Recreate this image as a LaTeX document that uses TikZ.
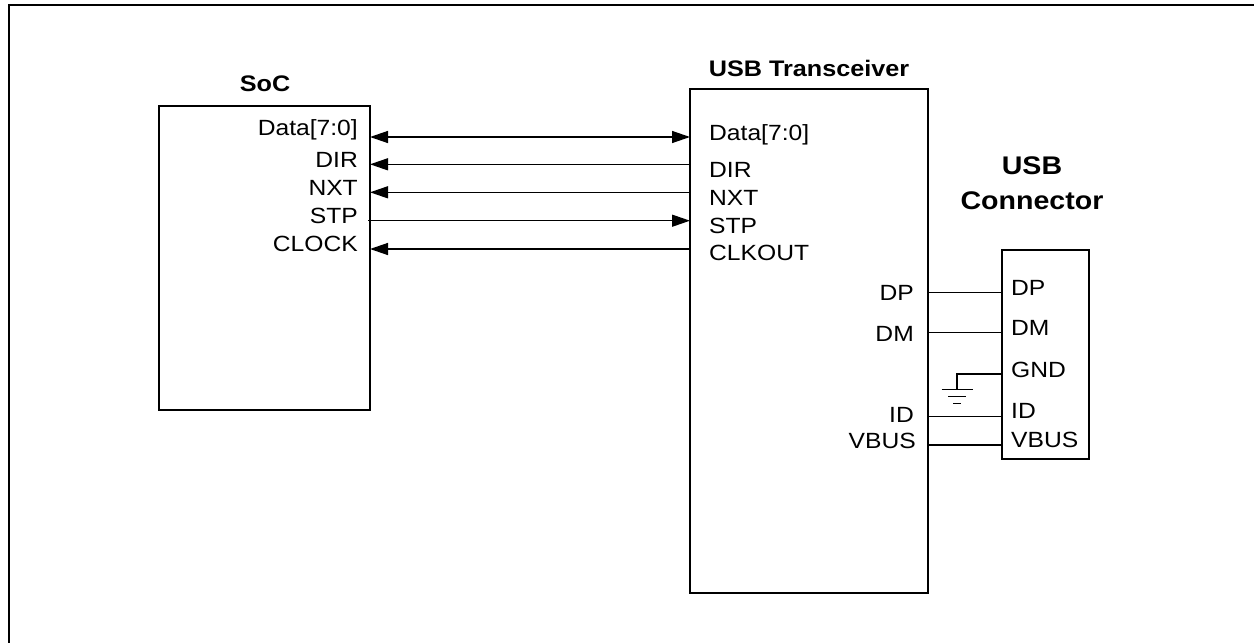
\documentclass[tikz,border=0pt]{standalone}
\usepackage{fontspec}
\setmainfont[FakeStretch=1.12]{Liberation Sans}
\usetikzlibrary{positioning, arrows.meta}

\begin{document}
\begin{tikzpicture}[
    x=1pt, y=-1pt,
    chip/.style={rectangle, draw=black, line width=1.6pt, inner sep=0pt},
    title/.style={font=\fontsize{22.5}{26}\selectfont\bfseries, inner sep=0pt},
    pin/.style={font=\fontsize{22}{26}\selectfont, inner sep=0pt},
    sig/.style={line width=1.4pt},
    arr/.style={sig, -{Triangle[length=18pt, width=12pt]}},
    darr/.style={sig, {Triangle[length=18pt, width=12pt]}-{Triangle[length=18pt, width=12pt]}}
  ]
  \useasboundingbox (0,0) rectangle (1254,643);
  % Frame
  \draw[line width=2.2pt] (9,660) -- (9,5) -- (1270,5);

  % Chips
  \node[chip, minimum width=211pt, minimum height=304pt] (soc) at (264.5,258) {};
  \node[chip, minimum width=238pt, minimum height=504pt] (xcvr) at (809,341) {};
  \node[chip, minimum width=87pt, minimum height=209pt] (conn) at (1045.5,354.5) {};

  % Titles
  \node[title] (soctitle) at (265,84) {SoC};
  \node[title] (xcvrtitle) at (809,68) {USB Transceiver};
  \node[title, font=\fontsize{25.5}{35}\selectfont\bfseries, align=center] (conntitle) at (1032,183) {USB\\Connector};

  % SoC pins
  \node[pin, anchor=base east] (s-data-l) at (358,135) {Data[7:0]};
  \node[pin, anchor=base east] (s-dir-l) at (358,167) {DIR};
  \node[pin, anchor=base east] (s-nxt-l) at (358,195) {NXT};
  \node[pin, anchor=base east] (s-stp-l) at (358,223) {STP};
  \node[pin, anchor=base east] (s-clk-l) at (358,251.5) {CLOCK};
  \coordinate (s-data) at (370,137);
  \coordinate (s-dir) at (370,164.3);
  \coordinate (s-nxt) at (370,192.3);
  \coordinate (s-stp) at (368,220.7);
  \coordinate (s-clk) at (370,249);

  % Transceiver pins
  \node[pin, anchor=base west] (t-data-l) at (709,140) {Data[7:0]};
  \node[pin, anchor=base west] (t-dir-l) at (709,177) {DIR};
  \node[pin, anchor=base west] (t-nxt-l) at (709,205) {NXT};
  \node[pin, anchor=base west] (t-stp-l) at (709,233) {STP};
  \node[pin, anchor=base west] (t-clk-l) at (709,260) {CLKOUT};
  \node[pin, anchor=base east] (t-dp-l) at (914,300) {DP};
  \node[pin, anchor=base east] (t-dm-l) at (914,341) {DM};
  \node[pin, anchor=base east] (t-id-l) at (914,422) {ID};
  \node[pin, anchor=base east] (t-vbus-l) at (916,448) {VBUS};
  \coordinate (t-data) at (690,137);
  \coordinate (t-dir) at (690,164.3);
  \coordinate (t-nxt) at (690,192.3);
  \coordinate (t-stp) at (690,220.7);
  \coordinate (t-clk) at (690,249);
  \coordinate (t-dp) at (928,292.3);
  \coordinate (t-dm) at (928,332.3);
  \coordinate (t-id) at (928,416.7);
  \coordinate (t-vbus) at (928,445);

  % Connector pins
  \node[pin, anchor=base west] (c-dp-l) at (1011,295) {DP};
  \node[pin, anchor=base west] (c-dm-l) at (1011,335) {DM};
  \node[pin, anchor=base west] (c-gnd-l) at (1011,377) {GND};
  \node[pin, anchor=base west] (c-id-l) at (1011,418) {ID};
  \node[pin, anchor=base west] (c-vbus-l) at (1011,447) {VBUS};
  \coordinate (c-dp) at (1002,292.3);
  \coordinate (c-dm) at (1002,332.3);
  \coordinate (c-gnd) at (1002,374);
  \coordinate (c-id) at (1002,416.7);
  \coordinate (c-vbus) at (1002,445);
  \coordinate (gnd) at (957,389.5);

  % ULPI
  \draw[darr] (s-data) -- (t-data);
  \draw[arr] (t-dir) -- (s-dir);
  \draw[arr] (t-nxt) -- (s-nxt);
  \draw[arr] (s-stp) -- (t-stp);
  \draw[arr] (t-clk) -- (s-clk);

  % USB lines
  \draw[sig] (t-dp) -- (c-dp);
  \draw[sig] (t-dm) -- (c-dm);
  \draw[sig] (t-id) -- (c-id);
  \draw[sig] (t-vbus) -- (c-vbus);
  \draw[sig] (c-gnd) -| (gnd);

  % Ground
  \draw[sig] ([xshift=-15.5pt]gnd) -- ([xshift=15.5pt]gnd);
  \draw[sig] ([xshift=-9pt, yshift=-7pt]gnd) -- ([xshift=8.5pt, yshift=-7pt]gnd);
  \draw[sig] ([xshift=-4pt, yshift=-14pt]gnd) -- ([xshift=3.5pt, yshift=-14pt]gnd);
\end{tikzpicture}
\end{document}
